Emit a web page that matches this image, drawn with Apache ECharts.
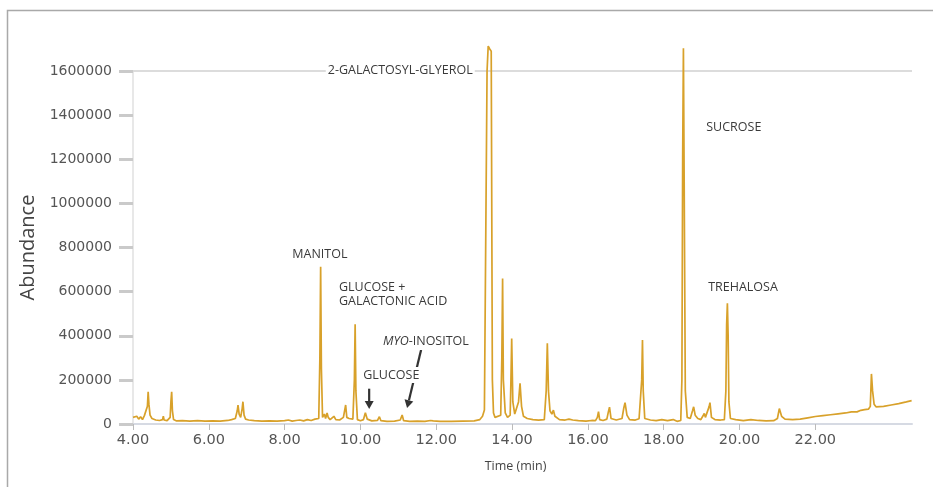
<!DOCTYPE html>
<html>
<head>
<meta charset="utf-8">
<script src="https://cdn.jsdelivr.net/npm/echarts@6/dist/echarts.min.js"></script>
<style>
  html, body { margin: 0; padding: 0; background: #fff; }
  #chart { width: 933px; height: 487px; }
</style>
</head>
<body>
<div id="chart"></div>
<script>
// Retention time (min)
const times = [
  4.00, 4.05, 4.10, 4.15, 4.20, 4.25, 4.30, 4.35, 4.38, 4.40, 4.42, 4.45, 4.50, 4.60, 4.70, 4.78, 4.80, 4.82, 4.90, 4.98,
  5.00, 5.02, 5.04, 5.07, 5.15, 5.30, 5.50, 5.70, 5.90, 6.10, 6.30, 6.50, 6.60, 6.70, 6.75, 6.77, 6.80, 6.84, 6.88, 6.90,
  6.93, 6.97, 7.05, 7.20, 7.40, 7.60, 7.80, 8.00, 8.10, 8.20, 8.30, 8.40, 8.50, 8.60, 8.70, 8.80, 8.90, 8.93, 8.95, 8.97,
  9.00, 9.05, 9.08, 9.12, 9.15, 9.20, 9.30, 9.35, 9.45, 9.55, 9.61, 9.64, 9.70, 9.80, 9.84, 9.86, 9.88, 9.92, 10.00, 10.08,
  10.13, 10.18, 10.30, 10.45, 10.50, 10.54, 10.70, 10.90, 11.05, 11.10, 11.14, 11.30, 11.50, 11.70, 11.85, 11.88, 11.92, 12.10, 12.40, 12.70,
  13.00, 13.15, 13.22, 13.27, 13.31, 13.34, 13.37, 13.41, 13.45, 13.48, 13.51, 13.55, 13.60, 13.70, 13.73, 13.75, 13.77, 13.82, 13.88, 13.95,
  13.97, 13.99, 14.02, 14.07, 14.12, 14.17, 14.21, 14.25, 14.30, 14.40, 14.55, 14.70, 14.85, 14.90, 14.93, 14.96, 15.00, 15.05, 15.09, 15.13,
  15.25, 15.40, 15.50, 15.55, 15.60, 15.75, 15.95, 16.10, 16.20, 16.25, 16.28, 16.31, 16.40, 16.50, 16.54, 16.57, 16.61, 16.75, 16.90, 16.95,
  16.98, 17.03, 17.10, 17.25, 17.35, 17.40, 17.42, 17.44, 17.46, 17.50, 17.65, 17.80, 17.95, 18.10, 18.25, 18.35, 18.45, 18.48, 18.50, 18.52,
  18.54, 18.57, 18.62, 18.70, 18.76, 18.79, 18.83, 18.90, 18.98, 19.03, 19.07, 19.10, 19.15, 19.20, 19.22, 19.26, 19.35, 19.50, 19.60, 19.64,
  19.66, 19.68, 19.70, 19.72, 19.76, 19.90, 20.10, 20.30, 20.50, 20.70, 20.90, 21.00, 21.05, 21.07, 21.11, 21.20, 21.40, 21.60, 21.80, 22.00,
  22.20, 22.40, 22.60, 22.80, 22.95, 23.00, 23.10, 23.20, 23.30, 23.40, 23.45, 23.48, 23.51, 23.55, 23.60, 23.80, 24.00, 24.20, 24.40, 24.54
];
// Abundance
const abundance = [
  30000, 24000, 35000, 22000, 33000, 20000, 38000, 30000, 80000, 146000, 90000, 40000, 25000, 18000, 16000, 20000, 35000, 18000, 15000, 30000,
  100000, 146000, 60000, 20000, 14000, 15000, 13000, 15000, 13000, 14000, 13000, 16000, 20000, 25000, 60000, 86000, 45000, 30000, 70000, 101000,
  40000, 22000, 18000, 15000, 13000, 14000, 13000, 15000, 18000, 13000, 16000, 18000, 14000, 20000, 16000, 22000, 25000, 300000, 713000, 250000,
  30000, 45000, 25000, 50000, 30000, 20000, 35000, 20000, 18000, 30000, 86000, 30000, 25000, 22000, 200000, 452000, 150000, 20000, 15000, 20000,
  51000, 22000, 14000, 16000, 33000, 15000, 12000, 13000, 18000, 41000, 15000, 12000, 13000, 12000, 16000, 22000, 14000, 12000, 12000, 13000,
  14000, 20000, 35000, 63000, 60000, 1600000, 1713000, 1700000, 1690000, 200000, 50000, 30000, 25000, 40000, 300000, 660000, 200000, 50000, 30000, 40000,
  200000, 388000, 100000, 45000, 50000, 100000, 184000, 80000, 35000, 25000, 20000, 18000, 20000, 150000, 366000, 150000, 60000, 45000, 63000, 35000,
  20000, 18000, 22000, 28000, 18000, 15000, 13000, 16000, 15000, 30000, 56000, 20000, 16000, 22000, 55000, 76000, 25000, 18000, 25000, 75000,
  97000, 40000, 20000, 18000, 24000, 30000, 200000, 381000, 150000, 25000, 18000, 15000, 20000, 15000, 20000, 12000, 16000, 200000, 1200000, 1703000,
  1100000, 150000, 30000, 25000, 60000, 78000, 40000, 25000, 20000, 35000, 48000, 30000, 35000, 80000, 97000, 30000, 20000, 18000, 20000, 150000,
  450000, 547000, 400000, 100000, 25000, 20000, 15000, 20000, 16000, 14000, 15000, 25000, 70000, 78000, 35000, 22000, 20000, 22000, 28000, 34000,
  38000, 42000, 46000, 50000, 55000, 60000, 55000, 62000, 65000, 67000, 80000, 227000, 150000, 90000, 78000, 80000, 86000, 92000, 100000, 106000
];
// Tick labels
const xTicks = [4, 6, 8, 10, 12, 14, 16, 18, 20, 22];
const yTicks = [0, 200000, 400000, 600000, 800000, 1000000, 1200000, 1400000, 1600000];

// Annotations (anchor in data coordinates)
const labelTexts = ['2-GALACTOSYL-GLYEROL', 'MANITOL', 'GLUCOSE +\nGALACTONIC ACID', '{i|MYO}-INOSITOL', 'GLUCOSE', 'SUCROSE', 'TREHALOSA'];
const labelAnchors = [[11.05, 1604000], [8.93, 770000], [9.38, 585000], [10.54, 372000], [10.02, 222000], [19.07, 1342000], [19.12, 621000]];
const labelAlign = ['center', 'center', 'left', 'left', 'left', 'left', 'left'];
const arrowFrom = [[10.23, 160000], [11.60, 336000]];
const arrowTo = [[10.23, 68000], [11.23, 72000]];

const FONT = '"Open Sans", "Noto Sans", sans-serif';
const TICKFONT = '"DejaVu Sans", "Open Sans", sans-serif';
const LINE = '#D8A12A';

const chart = echarts.init(document.getElementById('chart'), null, { renderer: 'canvas' });

chart.setOption({
  backgroundColor: '#fff',
  animation: false,
  grid: { left: 133, right: 21, top: 71, bottom: 63, containLabel: false },
  xAxis: {
    type: 'value', min: 4, max: 24.55, interval: 2,
    name: 'Time (min)', nameLocation: 'middle', nameGap: 36,
    nameTextStyle: { fontFamily: FONT, fontSize: 12.5, color: '#444', padding: [0, 14, 0, 0] },
    axisLine: { show: true, lineStyle: { color: '#d6dae3', width: 2 } },
    axisTick: { show: true, length: 6, customValues: xTicks, lineStyle: { color: '#bbb', width: 1 } },
    axisLabel: { customValues: xTicks, margin: 9, fontFamily: TICKFONT, fontSize: 14.5, color: '#555',
      formatter: v => v.toFixed(2) },
    splitLine: { show: false }
  },
  yAxis: {
    type: 'value', min: 0, max: 1600000, interval: 200000,
    name: 'Abundance', nameLocation: 'middle', nameGap: 90,
    nameTextStyle: { fontFamily: FONT, fontSize: 20, color: '#444' },
    axisLine: { show: true, lineStyle: { color: '#e0e0e0', width: 1.5 } },
    axisTick: { show: true, length: 14, customValues: yTicks, lineStyle: { color: '#cacaca', width: 3 } },
    axisLabel: { customValues: yTicks, margin: 21, fontFamily: TICKFONT, fontSize: 14, color: '#555',
      formatter: v => String(v) },
    splitLine: { show: false }
  },
  series: [{
    type: 'line',
    data: times.map((t, i) => [t, abundance[i]]),
    showSymbol: false,
    clip: false,
    lineStyle: { color: LINE, width: 1.7 },
    markLine: {
      silent: true, symbol: 'none', label: { show: false },
      lineStyle: { color: '#dcdcdc', width: 2, type: 'solid' },
      data: [{ yAxis: 1600000 }],
      z: 1
    }
  }]
});

function arrow(p0, p1) {
  const dx = p1[0] - p0[0], dy = p1[1] - p0[1];
  const L = Math.sqrt(dx * dx + dy * dy);
  const ux = dx / L, uy = dy / L;
  const hl = 8, hw = 4.5;
  const bx = p1[0] - ux * hl, by = p1[1] - uy * hl;
  return [
    { type: 'line', shape: { x1: p0[0], y1: p0[1], x2: bx, y2: by }, style: { stroke: '#333', lineWidth: 2.2 }, z: 50 },
    { type: 'polygon', shape: { points: [[p1[0], p1[1]], [bx - uy * hw, by + ux * hw], [bx + uy * hw, by - ux * hw]] },
      style: { fill: '#333' }, z: 50 }
  ];
}

const g = [];
for (let i = 0; i < arrowFrom.length; i++) {
  const a = chart.convertToPixel({ gridIndex: 0 }, arrowFrom[i]);
  const b = chart.convertToPixel({ gridIndex: 0 }, arrowTo[i]);
  g.push(...arrow(a, b));
}
labelTexts.forEach((txt, i) => {
  const p = chart.convertToPixel({ gridIndex: 0 }, labelAnchors[i]);
  g.push({
    type: 'text', x: p[0], y: p[1], z: 60,
    style: {
      text: txt, fill: '#3a3a3a', fontFamily: FONT, fontSize: 12.5,
      align: labelAlign[i], verticalAlign: 'middle', lineHeight: 14,
      backgroundColor: '#fff', padding: [1, 2],
      rich: { i: { fontStyle: 'italic', fontFamily: FONT, fontSize: 12.5, fill: '#3a3a3a' } }
    }
  });
});
// outer frame (top and left edges)
g.push({ type: 'polyline', shape: { points: [[7.5, 487], [7.5, 10.5], [933, 10.5]] },
  style: { stroke: '#a9a9a9', lineWidth: 1.5, fill: null }, z: 70 });

chart.setOption({ graphic: g });
</script>
</body>
</html>
